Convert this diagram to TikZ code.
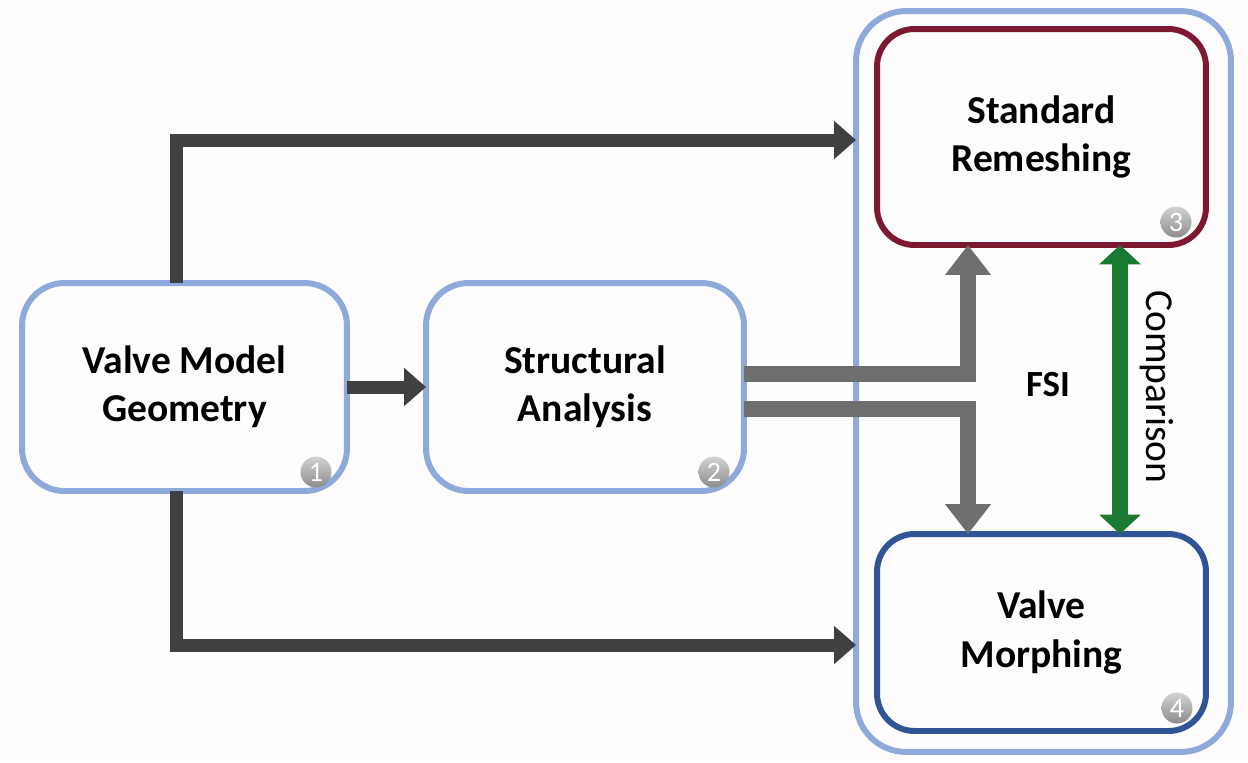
\documentclass[tikz,border=0pt]{standalone}
\usepackage{fontspec}
\setmainfont{Carlito}
\usetikzlibrary{arrows.meta,calc}
\definecolor{lblue}{HTML}{8EAADB}
\definecolor{dred}{HTML}{7E1831}
\definecolor{dblue}{HTML}{2F5597}
\definecolor{darr}{HTML}{404040}
\definecolor{garr}{HTML}{6E6E6E}
\definecolor{grn}{HTML}{1B7A31}
\definecolor{bgc}{HTML}{FEFCFC}
\begin{document}
\begin{tikzpicture}[x=0.02cm,y=-0.02cm,
  box/.style={draw, line width=3.4pt, inner sep=0pt, outer sep=0pt, align=center,
    font=\bfseries\fontsize{22.5}{27.5}\selectfont},
  badge/.style={circle, minimum size=0.62cm, inner sep=0pt, top color=gray!35, bottom color=gray!90,
    draw=none, text=white, font=\fontsize{16}{16}\selectfont},
  darkarrow/.style={draw=darr, line width=7.4pt, line join=miter, -{Triangle[length=12.5pt,width=21pt]}},
  grayarrow/.style={draw=garr, line width=9pt, line join=miter, -{Triangle[length=17pt,width=25pt]}},
  greenarrow/.style={draw=grn, line width=9.5pt, {Triangle[length=11pt,width=23pt]}-{Triangle[length=11pt,width=23pt]}}
]
\fill[bgc] (0,0) rectangle (1248,762);
\useasboundingbox (0,0) rectangle (1248,762);

% outer container
\node[draw=lblue, line width=3.4pt, rounded corners=1cm, minimum width=7.5cm, minimum height=14.82cm, inner sep=0pt, outer sep=0pt] (outer) at (1043.5,381.5) {};

% boxes
\node[box, draw=lblue, rounded corners=0.85cm, minimum width=6.5cm, minimum height=4.16cm] (geo) at (184.5,387) {Valve Model\\Geometry};
\node[box, draw=lblue, rounded corners=0.85cm, minimum width=6.36cm, minimum height=4.16cm] (struct) at (585,387) {Structural\\Analysis};
\node[box, draw=dred, rounded corners=0.75cm, minimum width=6.58cm, minimum height=4.32cm] (red) at (1041.5,137) {Standard\\Remeshing};
\node[box, draw=dblue, rounded corners=0.75cm, minimum width=6.58cm, minimum height=3.94cm] (blue) at (1041.5,632.5) {Valve\\Morphing};

% badges
\node[badge] (b1) at (316,472) {1};
\node[badge] (b2) at (714,472) {2};
\node[badge] (b3) at (1176,222) {3};
\node[badge] (b4) at (1177,708) {4};

% coordinates for turns
\coordinate (ytop) at (0,140);
\coordinate (ybot) at (0,645);

% dark arrows
\draw[darkarrow] ([xshift=-0.17cm]geo.north) |- (outer.west |- ytop);
\draw[darkarrow] ([xshift=-0.17cm]geo.south) |- (outer.west |- ybot);
\draw[darkarrow] (geo.east) -- (struct.west);

% gray arrows
\draw[grayarrow] ([yshift=0.26cm]struct.east) -| ([xshift=-1.47cm]red.south);
\draw[grayarrow] ([yshift=-0.44cm]struct.east) -| ([xshift=-1.47cm]blue.north);

% green comparison arrow
\draw[greenarrow] ([xshift=1.57cm]red.south) -- ([xshift=1.57cm]blue.north);

% labels
\node[font=\bfseries\fontsize{21}{21}\selectfont] (fsi) at (1048,385) {FSI};
\node[rotate=-90, font=\fontsize{22.5}{22.5}\selectfont] (cmp) at (1157,387) {Comparison};
\end{tikzpicture}
\end{document}
